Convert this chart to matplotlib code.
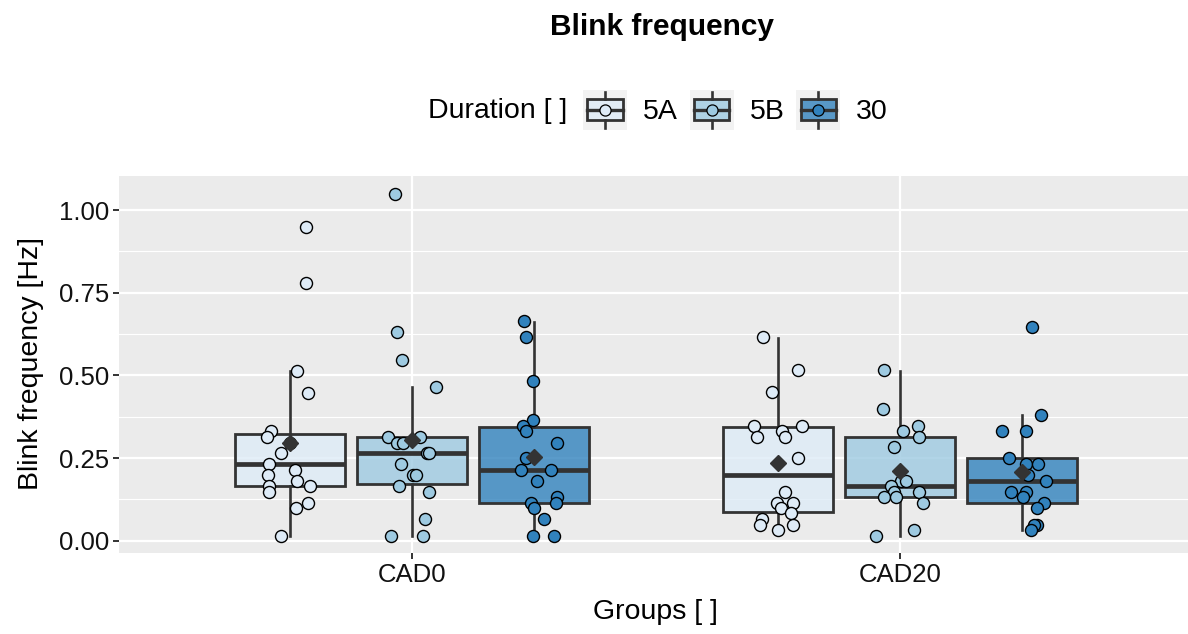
import matplotlib
matplotlib.use("Agg")
import matplotlib.pyplot as plt
from matplotlib.colors import to_rgba
from matplotlib.legend_handler import HandlerBase
from matplotlib.patches import Rectangle
from matplotlib.lines import Line2D
from matplotlib.ticker import MultipleLocator

plt.rcParams['font.family'] = ['Liberation Sans', 'DejaVu Sans']

groups = ['CAD0', 'CAD20']
durations = ['5A', '5B', '30']
colors = ['#deebf7', '#9ecae1', '#3182bd']

# blink frequencies, with the jitter offsets seen there
cad0_5a = [0.948, 0.781, 0.514, 0.448, 0.333, 0.315, 0.297, 0.264, 0.232, 0.215,
           0.199, 0.181, 0.165, 0.165, 0.148, 0.115, 0.098, 0.014]
cad0_5a_jit = [0.034, 0.034, 0.015, 0.037, -0.038, -0.047, 0.0, -0.019, -0.043, 0.010,
               -0.045, 0.014, -0.042, 0.042, -0.042, 0.038, 0.013, -0.018]
cad0_5b = [1.048, 0.631, 0.547, 0.464, 0.315, 0.315, 0.297, 0.297, 0.264, 0.264,
           0.232, 0.199, 0.199, 0.165, 0.148, 0.065, 0.014, 0.014]
cad0_5b_jit = [-0.034, -0.031, -0.021, 0.049, -0.049, 0.016, -0.030, -0.019, 0.031, 0.036,
               -0.023, 0.002, 0.009, -0.027, 0.036, 0.027, -0.043, 0.023]
cad0_30 = [0.665, 0.615, 0.482, 0.365, 0.348, 0.332, 0.297, 0.249, 0.215, 0.215,
           0.181, 0.132, 0.115, 0.115, 0.098, 0.065, 0.014, 0.014]
cad0_30_jit = [-0.021, -0.017, -0.001, -0.002, -0.023, -0.017, 0.047, -0.017, -0.026, 0.034,
               0.006, 0.047, 0.046, -0.007, 0.0, 0.021, -0.001, 0.041]
cad20_5a = [0.617, 0.515, 0.449, 0.348, 0.348, 0.333, 0.315, 0.315, 0.249, 0.148,
            0.115, 0.115, 0.099, 0.083, 0.066, 0.048, 0.048, 0.032]
cad20_5a_jit = [-0.030, 0.040, -0.012, -0.049, 0.049, 0.009, -0.043, 0.015, 0.040, 0.014,
                -0.002, 0.031, 0.007, 0.027, -0.033, -0.036, 0.031, 0.0]
cad20_5b = [0.515, 0.398, 0.348, 0.332, 0.315, 0.282, 0.181, 0.181, 0.165, 0.148,
            0.148, 0.131, 0.131, 0.115, 0.032, 0.015]
cad20_5b_jit = [-0.033, -0.035, 0.037, 0.006, 0.039, -0.012, 0.001, 0.013, -0.018, -0.013,
                0.038, -0.033, -0.008, 0.046, 0.028, -0.049]
cad20_30 = [0.648, 0.381, 0.332, 0.332, 0.249, 0.232, 0.232, 0.199, 0.181, 0.148,
            0.148, 0.131, 0.115, 0.098, 0.048, 0.048, 0.032]
cad20_30_jit = [0.021, 0.038, -0.041, 0.007, -0.027, 0.007, 0.033, 0.012, 0.048, -0.022,
                0.008, 0.001, 0.045, 0.030, 0.030, 0.025, 0.018]

# box summaries as drawn: (q1, median, q3, lower whisker, upper whisker, mean)
box_cad0 = [(0.164, 0.232, 0.323, 0.014, 0.514, 0.297),
            (0.171, 0.264, 0.315, 0.014, 0.464, 0.304),
            (0.114, 0.215, 0.345, 0.014, 0.663, 0.252)]
box_cad20 = [(0.086, 0.199, 0.345, 0.032, 0.613, 0.234),
             (0.131, 0.165, 0.315, 0.015, 0.512, 0.211),
             (0.115, 0.181, 0.249, 0.032, 0.380, 0.207)]

points = [[(cad0_5a, cad0_5a_jit), (cad0_5b, cad0_5b_jit), (cad0_30, cad0_30_jit)],
          [(cad20_5a, cad20_5a_jit), (cad20_5b, cad20_5b_jit), (cad20_30, cad20_30_jit)]]
boxes = [box_cad0, box_cad20]

DARK = '#333333'
BG = '#EBEBEB'
dodge = 0.25
box_w = 0.225

W, H = 1188, 634
fig = plt.figure(figsize=(W / 100, H / 100), dpi=100)
ax = fig.add_axes([119 / W, (H - 553) / H, (1193 - 119) / W, (553 - 176) / H])
ax.set_facecolor(BG)
for s in ax.spines.values():
    s.set_visible(False)

for gi, g in enumerate(groups):
    for di, d in enumerate(durations):
        pos = gi + 1 + (di - 1) * dodge
        q1, med, q3, lo, hi, mean = boxes[gi][di]
        st = dict(q1=q1, med=med, q3=q3, whislo=lo, whishi=hi, mean=mean, fliers=[])
        ax.bxp([st], positions=[pos], widths=box_w, patch_artist=True, showcaps=False,
               showfliers=False, showmeans=False,
               boxprops=dict(facecolor=to_rgba(colors[di], 0.8), edgecolor=DARK,
                             linewidth=2.0),
               whiskerprops=dict(color=DARK, linewidth=1.9),
               medianprops=dict(color=DARK, linewidth=3.4, solid_capstyle='butt'),
               zorder=3)
        vals, jit = points[gi][di]
        ax.scatter([pos + j for j in jit], vals, s=75, c=colors[di], edgecolors='black',
                   linewidths=1.0, zorder=4)
        ax.plot([pos], [mean], marker='D', ms=8.5, color=DARK, ls='none', zorder=5)

ax.set_xlim(0.4, 2.6)
ax.set_ylim(-0.0372, 1.1034)
ax.set_xticks([1, 2])
ax.set_xticklabels(groups)
ax.yaxis.set_major_locator(MultipleLocator(0.25))
ax.yaxis.set_minor_locator(MultipleLocator(0.125))
ax.set_yticks([0, 0.25, 0.5, 0.75, 1.0])
ax.set_yticklabels(['0.00', '0.25', '0.50', '0.75', '1.00'])
ax.grid(True, which='major', color='white', linewidth=1.6, zorder=0)
ax.grid(True, which='minor', axis='y', color='white', linewidth=0.8, zorder=0)
ax.set_axisbelow(True)
ax.tick_params(axis='both', which='major', length=4, width=1.4, color=DARK,
               labelsize=18.5, labelcolor='#111111', pad=3)
ax.tick_params(axis='y', which='minor', length=0)

fig.text(662 / W, 1 - 27 / H, 'Blink frequency', ha='center', va='center',
         fontsize=21.5, fontweight='bold')
fig.text(31 / W, 1 - 364 / H, 'Blink frequency [Hz]', ha='center', va='center',
         rotation=90, fontsize=20.5)
fig.text(655 / W, 1 - 612 / H, 'Groups [ ]', ha='center', va='center', fontsize=20.5)


class BoxKey(HandlerBase):
    def create_artists(self, legend, orig_handle, xdescent, ydescent, width, height,
                       fontsize, trans):
        x0, y0 = -xdescent, -ydescent
        fc = orig_handle
        arts = [Rectangle((x0, y0), width, height, facecolor='#F2F2F2', edgecolor='none')]
        bx0, bx1 = x0 + width * 0.1, x0 + width * 0.9
        by0, by1 = y0 + height * 0.25, y0 + height * 0.77
        ym = y0 + height * 0.51
        xm = x0 + width / 2
        arts.append(Rectangle((bx0, by0), bx1 - bx0, by1 - by0,
                              facecolor=to_rgba(fc, 0.8), edgecolor=DARK, linewidth=2.0))
        arts.append(Line2D([xm, xm], [y0 + height * 0.05, by0], color=DARK, lw=1.9))
        arts.append(Line2D([xm, xm], [by1, y0 + height * 0.95], color=DARK, lw=1.9))
        arts.append(Line2D([bx0, bx1], [ym, ym], color=DARK, lw=2.4))
        arts.append(Line2D([xm], [ym], marker='o', ms=8, mfc=fc, mec='black', mew=0.9,
                           ls='none'))
        for a in arts:
            a.set_transform(trans)
        return arts


fig.text(567 / W, 1 - 111 / H, 'Duration [ ]', ha='right', va='center', fontsize=20.5)
leg = fig.legend(colors, durations, handler_map={str: BoxKey()}, ncol=3,
                 loc='center left', bbox_to_anchor=(583 / W, 1 - 110 / H),
                 frameon=False, fontsize=20.5, handlelength=1.55, handleheight=1.75,
                 handletextpad=0.55, columnspacing=0.42, borderpad=0, borderaxespad=0)

fig.savefig('out.png', dpi=100)
